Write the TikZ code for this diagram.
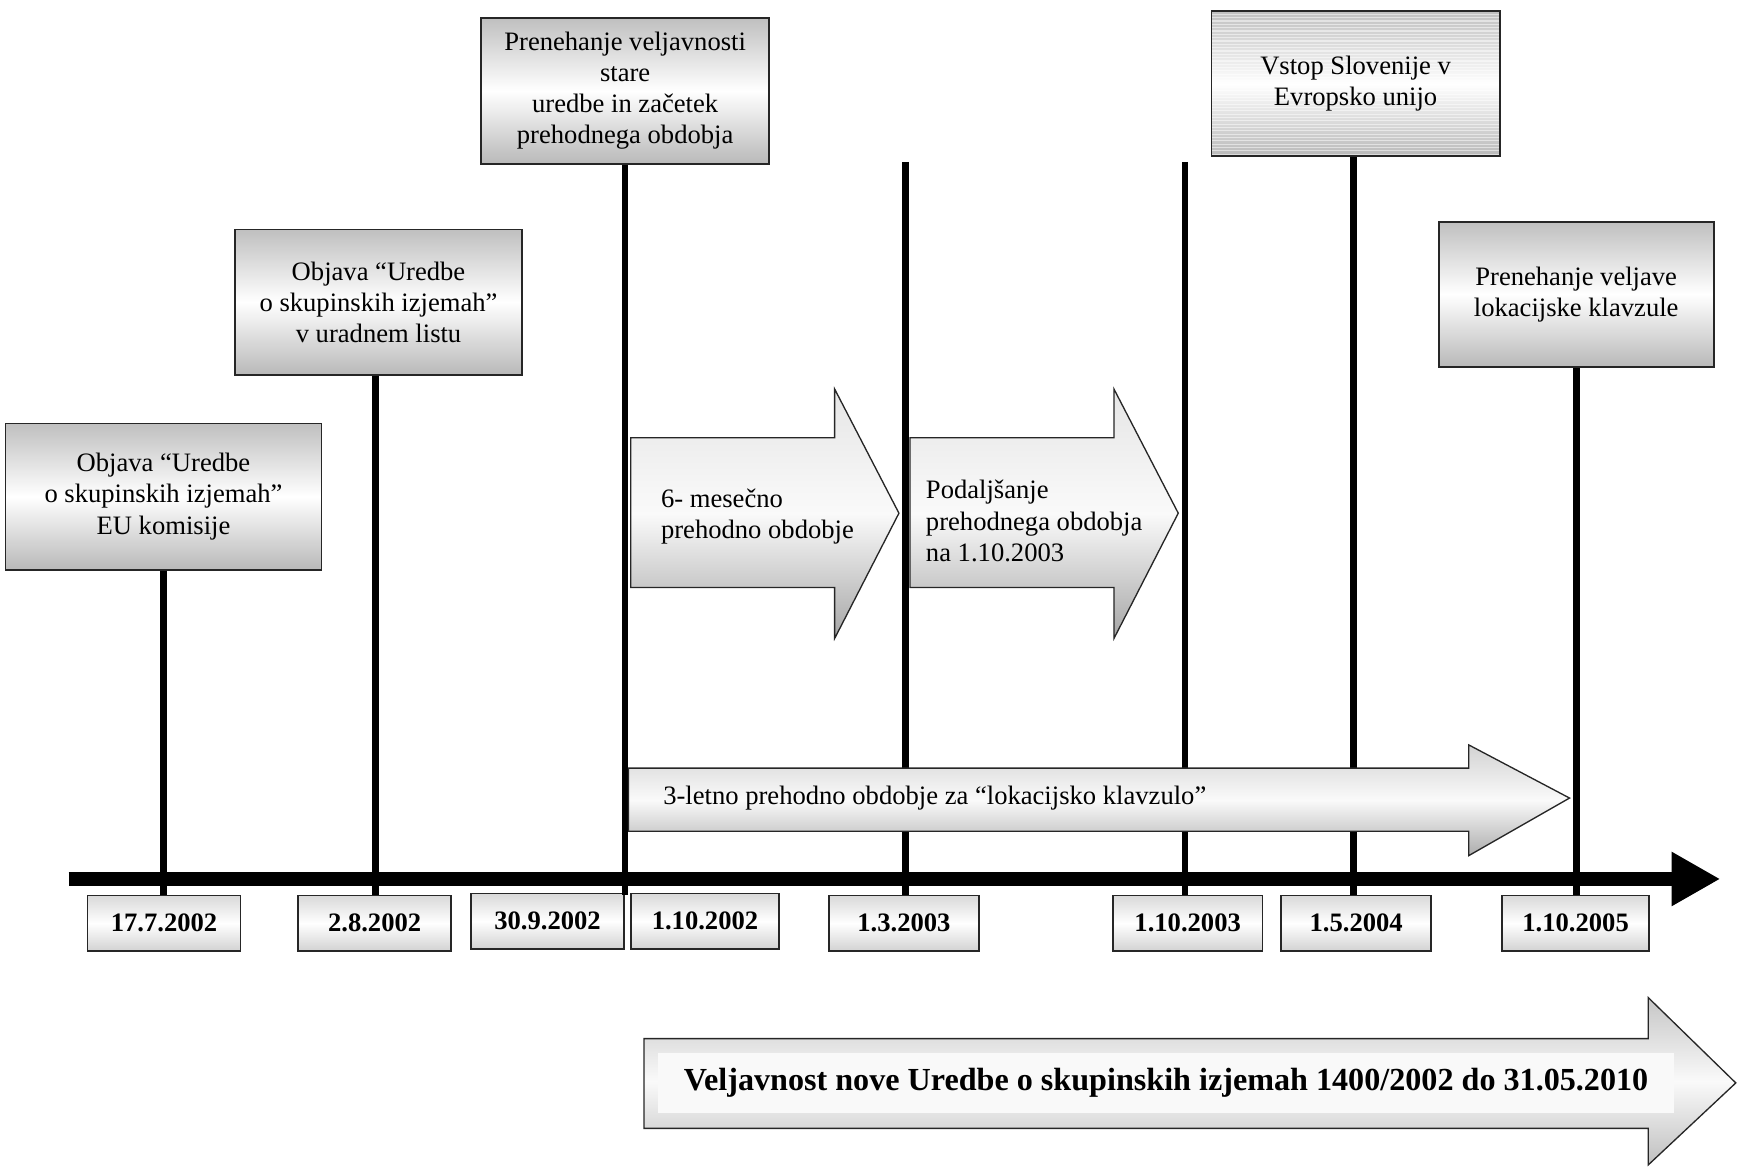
\documentclass[tikz,border=0pt]{standalone}
\usepackage{fontspec}
\setmainfont{Liberation Serif}
\usetikzlibrary{arrows.meta}
\begin{document}
\begin{tikzpicture}[x=0.5pt,y=-0.5pt,
  evbox/.style={draw=black!85, line width=0.8pt, shading=axis, top color=gray!50, bottom color=gray!55, middle color=white, align=center, font=\fontsize{12}{14}\selectfont, inner sep=0pt},
  datebox/.style={draw=black!85, line width=0.8pt, shading=axis, top color=gray!30, bottom color=gray!35, middle color=white, font=\fontsize{12}{14}\selectfont\bfseries, inner sep=0pt, minimum height=25pt},
  vline/.style={line width=3pt},
  arrshape/.style={draw=black!85, line width=0.6pt, shading=axis},
  arrtext/.style={font=\fontsize{12}{14}\selectfont, align=left, inner sep=0pt},
  stripes/.style={path picture={
    \foreach \k in {0,...,45} \draw[white, opacity=.5, line width=.5pt]
      ([yshift=-\k*1.5pt]path picture bounding box.north west) -- ([yshift=-\k*1.5pt]path picture bounding box.north east);}}
]
\useasboundingbox (0,0) rectangle (1568,1052);

% event boxes
\node[evbox, minimum width=142.5pt, minimum height=66pt] (b1) at (147.5,448) {Objava “Uredbe\\o skupinskih izjemah”\\EU komisije};
\node[evbox, minimum width=129.5pt, minimum height=65.5pt] (b2) at (341.5,272.5) {Objava “Uredbe\\o skupinskih izjemah”\\v uradnem listu};
\node[evbox, minimum width=130pt, minimum height=66pt] (b3) at (564,82) {Prenehanje veljavnosti\\stare\\uredbe in začetek\\prehodnega obdobja};
\node[evbox, stripes, minimum width=130pt, minimum height=65.5pt] (b4) at (1223,75.5) {Vstop Slovenije v\\Evropsko unijo};
\node[evbox, minimum width=124pt, minimum height=65.5pt] (b5) at (1422,265.5) {Prenehanje veljave\\lokacijske klavzule};

% date boxes
\node[datebox, minimum width=69pt] (d1) at (148,833) {17.7.2002};
\node[datebox, minimum width=69pt] (d2) at (338,833) {2.8.2002};
\node[datebox, minimum width=69pt] (d3) at (494,831) {30.9.2002};
\node[datebox, minimum width=67pt] (d4) at (636,831) {1.10.2002};
\node[datebox, minimum width=67.5pt] (d5) at (815.5,833) {1.3.2003};
\node[datebox, minimum width=67.5pt] (d6) at (1071.5,833) {1.10.2003};
\node[datebox, minimum width=67.5pt] (d7) at (1223.5,833) {1.5.2004};
\node[datebox, minimum width=66.5pt] (d8) at (1421.5,833) {1.10.2005};

% vertical lines
\coordinate (t4) at (817,146);
\coordinate (t5) at (1069,146);
\draw[vline] (b1.south) -- (b1.south |- d1.north);
\draw[vline] ([xshift=-1.5pt]b2.south) -- ([xshift=-1.5pt]b2.south |- d2.north);
\draw[vline] (b3.south) -- (b3.south |- d1.north);
\draw[vline] (t4) -- (t4 |- d5.north);
\draw[vline] (t5) -- (t5 |- d6.north);
\draw[vline] ([xshift=-1pt]b4.south) -- ([xshift=-1pt]b4.south |- d7.north);
\draw[vline] (b5.south) -- (b5.south |- d8.north);

% time axis
\coordinate (ax0) at (62,793);
\coordinate (ax1) at (1552,793);
\draw[line width=6pt, -{Triangle[length=22pt,width=23pt]}] (ax0) -- (ax1);

% arrows
\path[arrshape, top color=gray!20, bottom color=gray!70, middle color=white!96!gray] (569,395) -- (753,395) -- (753,351) -- (811,463) -- (753,576) -- (753,530) -- (569,530) -- cycle;
\node[arrtext, anchor=west] (a1) at (596,466) {6- mesečno\\prehodno obdobje};
\path[arrshape, top color=gray!20, bottom color=gray!70, middle color=white!96!gray] (821,395) -- (1005,395) -- (1005,351) -- (1063,463) -- (1005,576) -- (1005,530) -- (821,530) -- cycle;
\node[arrtext, anchor=west] (a2) at (835,470) {Podaljšanje\\prehodnega obdobja\\na 1.10.2003};
\path[arrshape, top color=gray!35, bottom color=gray!65, middle color=white!96!gray] (567,693) -- (1325,693) -- (1325,672) -- (1416,720) -- (1325,772) -- (1325,750) -- (567,750) -- cycle;
\node[arrtext, anchor=west] (a3) at (598,720) {3-letno prehodno obdobje za “lokacijsko klavzulo”};
\path[arrshape, top color=gray!45, bottom color=gray!50, middle color=white!96!gray] (581,937) -- (1487,937) -- (1487,900) -- (1566,977) -- (1487,1051) -- (1487,1018) -- (581,1018) -- cycle;
\node[fill=white!95!gray, minimum width=458pt, minimum height=27pt, inner sep=0pt, font=\fontsize{14.5}{16}\selectfont\bfseries] (a4) at (1052,977) {Veljavnost nove Uredbe o skupinskih izjemah 1400/2002 do 31.05.2010};
\end{tikzpicture}
\end{document}
